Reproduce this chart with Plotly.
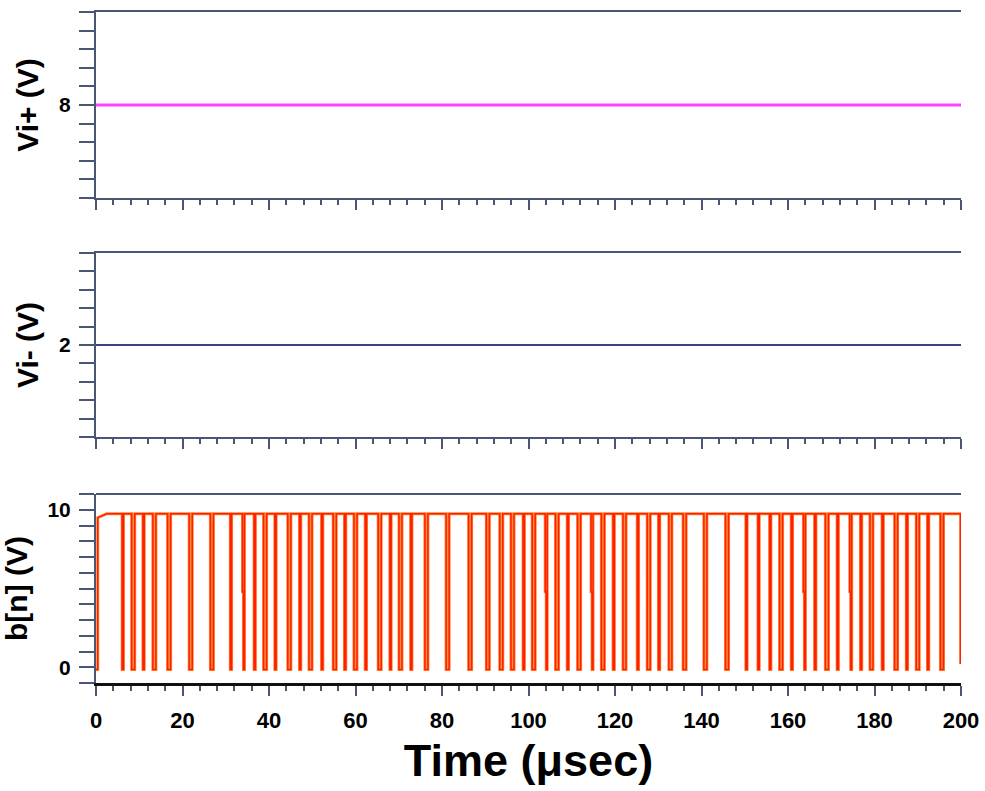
import plotly.graph_objects as go

# ---------------- data ----------------
time_range = [0, 200]                 # microseconds
vi_plus_time = [0, 200]
vi_plus_volts = [8.0, 8.0]
vi_minus_time = [0, 200]
vi_minus_volts = [2.0, 2.0]

vi_plus_range = [7, 9]
vi_minus_range = [1, 3]
bn_range = [-1, 11]

vi_plus_ticks = [8]
vi_minus_ticks = [2]
bn_ticks = [0, 10]
x_ticks = [0, 20, 40, 60, 80, 100, 120, 140, 160, 180, 200]

# b[n] bit-stream: levels and low-going pulse centres (usec)
bn_high = 9.75
bn_low = -0.15
bn_half = 4.8
bn_first_rise = 0.4
bn_end_drop = 199.9

dip_centers = [
    6.2, 8.6, 11.0, 13.5, 16.9, 21.9, 26.8, 31.2, 34.1, 36.7, 39.1, 41.5, 44.7, 47.2, 49.6,
    52.3, 55.2, 57.6, 60.0, 62.4, 65.6, 68.1, 70.4, 72.9, 76.4, 81.3, 86.5, 90.6, 93.7, 96.3, 98.9,
    101.2, 104.1, 106.6, 109.1, 111.7, 114.7, 117.2, 119.7, 122.2, 125.3, 127.8, 130.2, 132.8,
    136.1, 140.9, 145.9, 150.4,
    153.2, 155.9, 158.4, 160.9, 163.8, 166.3, 169.0, 171.5, 174.5, 176.9, 179.3, 181.9, 185.0,
    187.5, 190.0, 192.4, 195.6,
]
# n = narrow pulse, w = wide pulse, h = pulse with a half-level step
dip_kinds = [
    "n", "w", "n", "w", "w", "w", "w", "n", "h", "n", "w", "n", "w", "n", "w",
    "n", "w", "n", "w", "n", "w", "n", "w", "n", "w", "w", "w", "w", "w", "w", "n",
    "w", "h", "w", "n", "w", "h", "w", "n", "w", "n", "w", "n", "w",
    "w", "w", "w", "n",
    "n", "n", "w", "n", "h", "n", "w", "n", "h", "n", "w", "n", "w",
    "n", "w", "n", "w",
]
dip_widths = {"n": 0.3, "w": 0.7, "h": 0.45}

# ---------------- build step waveform from the data ----------------
bn_t = [0, bn_first_rise, bn_first_rise, 2.5]
bn_v = [bn_low, bn_low, 9.5, bn_high]
for c, k in zip(dip_centers, dip_kinds):
    w = dip_widths[k]
    a, b = c - w / 2, c + w / 2
    if k == "h":
        bn_t += [a, a, c, c, b, b]
        bn_v += [bn_high, bn_half, bn_half, bn_low, bn_low, bn_high]
    else:
        bn_t += [a, a, b, b]
        bn_v += [bn_high, bn_low, bn_low, bn_high]
bn_t += [bn_end_drop, bn_end_drop]
bn_v += [bn_high, 0.2]

# ---------------- styling ----------------
AX = "#4b5574"
FONT = "Liberation Sans, Arial, sans-serif"

fig = go.Figure()
fig.add_trace(go.Scatter(x=vi_plus_time, y=vi_plus_volts, mode="lines",
                         line=dict(color="#ff40ff", width=3), xaxis="x", yaxis="y",
                         showlegend=False, hoverinfo="skip"))
fig.add_trace(go.Scatter(x=vi_minus_time, y=vi_minus_volts, mode="lines",
                         line=dict(color="#3b4577", width=2.2), xaxis="x2", yaxis="y2",
                         showlegend=False, hoverinfo="skip"))
fig.add_trace(go.Scatter(x=bn_t, y=bn_v, mode="lines",
                         line=dict(color="#ff8a3a", width=3), xaxis="x3", yaxis="y3",
                         showlegend=False, hoverinfo="skip"))
fig.add_trace(go.Scatter(x=bn_t, y=bn_v, mode="lines",
                         line=dict(color="#ff2000", width=1.5), xaxis="x3", yaxis="y3",
                         showlegend=False, hoverinfo="skip"))

H = 671.0
dom_top = [(683 - 198) / H, 1.0]
dom_mid = [(683 - 437) / H, (683 - 253) / H]
dom_bot = [0.0, (683 - 494) / H]


def xaxis(anchor, labels, linecolor=AX, linewidth=2, mirror=True):
    return dict(
        domain=[0, 1], range=time_range, anchor=anchor, automargin=False,
        showline=True, linecolor=linecolor, linewidth=linewidth, mirror=mirror,
        showgrid=False, zeroline=False,
        ticks="outside", ticklen=10, tickwidth=1.5, tickcolor=AX,
        tickmode="array", tickvals=x_ticks,
        showticklabels=labels, ticklabelstandoff=6,
        tickfont=dict(family=FONT, size=22, color="#000000", weight="bold"),
        minor=dict(dtick=4, tick0=0, ticks="outside", ticklen=5, tickwidth=1.5, tickcolor=AX),
    )


def yaxis(anchor, dom, rng, ticks, minor_dtick, title):
    return dict(
        domain=dom, range=rng, anchor=anchor, automargin=False,
        showline=True, linecolor=AX, linewidth=2,
        showgrid=False, zeroline=False,
        ticks="outside", ticklen=15, tickwidth=1.5, tickcolor=AX,
        tickmode="array", tickvals=ticks, ticklabelstandoff=4,
        tickfont=dict(family=FONT, size=21, color="#000000", weight="bold"),
        minor=dict(dtick=minor_dtick, tick0=rng[0], ticks="outside", ticklen=15,
                   tickwidth=1.5, tickcolor=AX),
        title=dict(text=title, standoff=12,
                   font=dict(family=FONT, size=30, color="#000000", weight="bold")),
    )


fig.update_layout(
    width=985, height=791,
    margin=dict(l=96, r=24, t=12, b=108),
    paper_bgcolor="white", plot_bgcolor="white",
    xaxis=xaxis("y", False),
    xaxis2=xaxis("y2", False),
    xaxis3=xaxis("y3", True, linecolor="#111111", linewidth=3, mirror=False),
    yaxis=yaxis("x", dom_top, vi_plus_range, vi_plus_ticks, 0.2, "Vi+ (V)"),
    yaxis2=yaxis("x2", dom_mid, vi_minus_range, vi_minus_ticks, 0.2, "Vi- (V)"),
    yaxis3=yaxis("x3", dom_bot, bn_range, bn_ticks, 1, "b[n] (V)"),
    shapes=[dict(type="line", xref="x3 domain", yref="y3 domain", x0=0, x1=1, y0=1, y1=1,
                 line=dict(color=AX, width=2), layer="above")],
)
fig.layout.xaxis3.title = dict(text="Time (μsec)", standoff=13,
                               font=dict(family=FONT, size=45, color="#000000", weight="bold"))

fig.write_html(
    "out.html",
    config={"displayModeBar": False},
    post_script="document.body.style.margin='0';document.body.style.overflow='hidden';",
)
